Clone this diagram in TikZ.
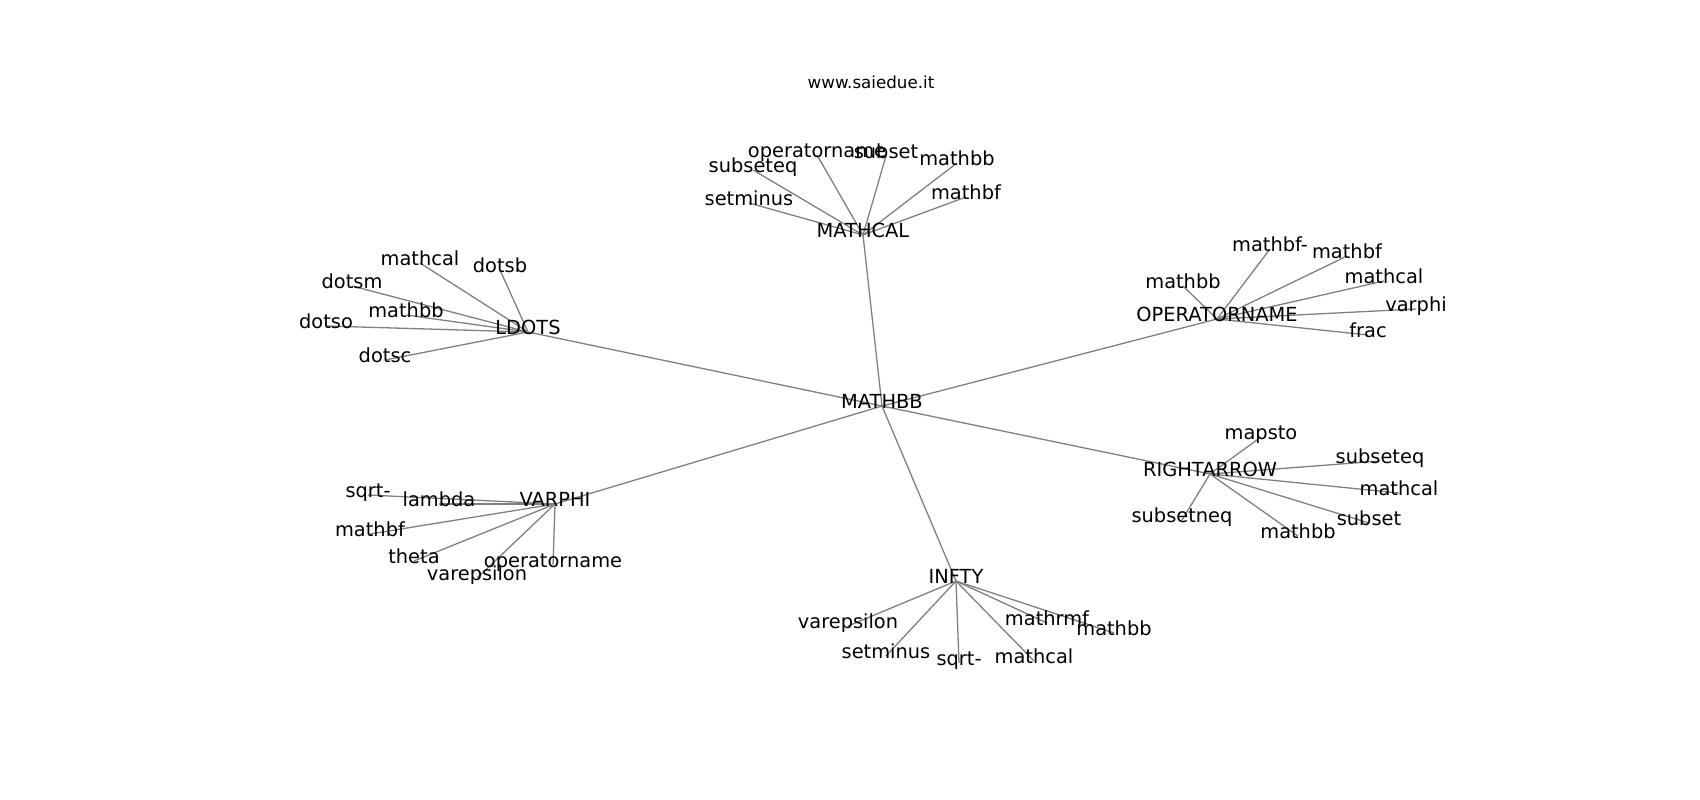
\documentclass[tikz,border=0pt]{standalone}
\usepackage{fontspec}
\setmainfont{DejaVu Sans}
\usetikzlibrary{backgrounds}
\tikzset{
  lbl/.style={inner sep=0pt, text height=0.76em, text depth=0.24em, font=\fontsize{19.4}{23}\selectfont},
  ttl/.style={inner sep=0pt, font=\fontsize{16.7}{20}\selectfont},
  edge/.style={draw=gray, line width=1.3pt}
}
\begin{document}
\begin{tikzpicture}[x=1pt,y=-1pt]
\useasboundingbox (0,0) rectangle (1700,800);
\node[ttl] (title) at (871,82) {www.saiedue.it};
\begin{scope}[yshift=-3pt]
% hubs
\node[lbl] (root) at (882,403) {MATHBB};
\node[lbl] (mc) at (863,232) {MATHCAL};
\node[lbl] (ld) at (528,329) {LDOTS};
\node[lbl] (op) at (1217,316) {OPERATORNAME};
\node[lbl] (ra) at (1210,471) {RIGHTARROW};
\node[lbl] (vp) at (555,501) {VARPHI};
\node[lbl] (inf) at (956,578) {INFTY};
% MATHCAL children
\node[lbl] (mc1) at (817,152) {operatorname};
\node[lbl] (mc2) at (886,153) {subset};
\node[lbl] (mc3) at (957,160) {mathbb};
\node[lbl] (mc4) at (966,194) {mathbf};
\node[lbl] (mc5) at (753,167) {subseteq};
\node[lbl] (mc6) at (749,200) {setminus};
% LDOTS children
\node[lbl] (ld1) at (420,260) {mathcal};
\node[lbl] (ld2) at (500,267) {dotsb};
\node[lbl] (ld3) at (352,283) {dotsm};
\node[lbl] (ld4) at (406,312) {mathbb};
\node[lbl] (ld5) at (326,323) {dotso};
\node[lbl] (ld6) at (385,357) {dotsc};
% OPERATORNAME children
\node[lbl] (op1) at (1270,246) {mathbf-};
\node[lbl] (op2) at (1347,253) {mathbf};
\node[lbl] (op3) at (1384,278) {mathcal};
\node[lbl] (op4) at (1416,306) {varphi};
\node[lbl] (op5) at (1368,332) {frac};
\node[lbl] (op6) at (1183,283) {mathbb};
% RIGHTARROW children
\node[lbl] (ra1) at (1261,434) {mapsto};
\node[lbl] (ra2) at (1380,458) {subseteq};
\node[lbl] (ra3) at (1399,490) {mathcal};
\node[lbl] (ra4) at (1369,520) {subset};
\node[lbl] (ra5) at (1298,533) {mathbb};
\node[lbl] (ra6) at (1182,517) {subsetneq};
% VARPHI children
\node[lbl] (vp1) at (368,492) {sqrt-};
\node[lbl] (vp2) at (439,501) {lambda};
\node[lbl] (vp3) at (370,531) {mathbf};
\node[lbl] (vp4) at (414,558) {theta};
\node[lbl] (vp5) at (477,575) {varepsilon};
\node[lbl] (vp6) at (553,562) {operatorname};
% INFTY children
\node[lbl] (in1) at (848,623) {varepsilon};
\node[lbl] (in2) at (886,653) {setminus};
\node[lbl] (in3) at (959,660) {sqrt-};
\node[lbl] (in4) at (1034,658) {mathcal};
\node[lbl] (in5) at (1047,620) {mathrmf};
\node[lbl] (in6) at (1114,630) {mathbb};
\end{scope}
\begin{scope}[on background layer]
  \foreach \h in {mc,ld,op,ra,vp,inf} \draw[edge] (root.center) -- (\h.center);
  \foreach \c in {mc1,mc2,mc3,mc4,mc5,mc6} \draw[edge] (mc.center) -- (\c.center);
  \foreach \c in {ld1,ld2,ld3,ld4,ld5,ld6} \draw[edge] (ld.center) -- (\c.center);
  \foreach \c in {op1,op2,op3,op4,op5,op6} \draw[edge] (op.center) -- (\c.center);
  \foreach \c in {ra1,ra2,ra3,ra4,ra5,ra6} \draw[edge] (ra.center) -- (\c.center);
  \foreach \c in {vp1,vp2,vp3,vp4,vp5,vp6} \draw[edge] (vp.center) -- (\c.center);
  \foreach \c in {in1,in2,in3,in4,in5,in6} \draw[edge] (inf.center) -- (\c.center);
\end{scope}
\end{tikzpicture}
\end{document}
